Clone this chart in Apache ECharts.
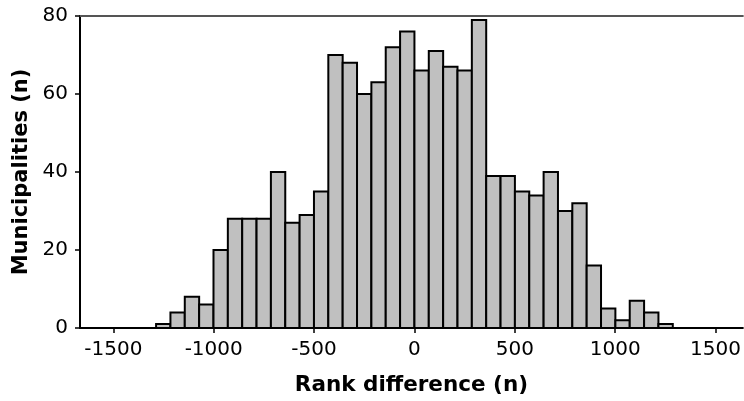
<!DOCTYPE html>
<html>
<head>
<meta charset="utf-8">
<script src="https://cdn.jsdelivr.net/npm/echarts@6/dist/echarts.min.js"></script>
<style>
html,body{margin:0;padding:0;background:#fff;}
#chart{width:744px;height:401px;}
</style>
</head>
<body>
<div id="chart"></div>
<script>
// Histogram data: 36 bins of equal width, symmetric around 0
const binStart = -1287;
const binWidth = 71.5;
const counts = [1, 4, 8, 6, 20, 28, 28, 28, 40, 27, 29, 35, 70, 68, 60, 63, 72, 76,
                66, 71, 67, 66, 79, 39, 39, 35, 34, 40, 30, 32, 16, 5, 2, 7, 4, 1];
const xTicks = [-1500, -1000, -500, 0, 500, 1000, 1500];
const yTicks = [0, 20, 40, 60, 80];
const xTitle = 'Rank difference (n)';
const yTitle = 'Municipalities (n)';

const data = counts.map((c, i) => [binStart + i * binWidth, binStart + (i + 1) * binWidth, c]);

const chart = echarts.init(document.getElementById('chart'), null, {renderer: 'canvas'});
const font = 'DejaVu Sans';
chart.setOption({
  animation: false,
  backgroundColor: '#fff',
  grid: {left: 80, right: 0, top: 16, bottom: 72, containLabel: false},
  xAxis: [{
    type: 'value',
    min: -1666, max: 1636,
    position: 'bottom',
    axisLine: {show: true, onZero: false, lineStyle: {color: '#000', width: 2}},
    axisTick: {show: true, inside: false, length: 5, customValues: xTicks, lineStyle: {color: '#000', width: 1.5}},
    axisLabel: {show: true, customValues: xTicks, margin: 12, color: '#000', fontSize: 20, fontFamily: font,
      formatter: v => String(v)},
    splitLine: {show: false},
    name: xTitle,
    nameLocation: 'middle',
    nameGap: 46,
    nameTextStyle: {color: '#000', fontSize: 21.5, fontWeight: 'bold', fontFamily: font}
  }, {
    type: 'value',
    min: -1666, max: 1636,
    position: 'top',
    axisLine: {show: true, onZero: false, lineStyle: {color: '#555', width: 2}},
    axisTick: {show: false},
    axisLabel: {show: false},
    splitLine: {show: false}
  }],
  yAxis: {
    type: 'value',
    min: 0, max: 80, interval: 20,
    position: 'left',
    axisLine: {show: true, onZero: false, lineStyle: {color: '#000', width: 2}},
    axisTick: {show: true, inside: false, length: 5, lineStyle: {color: '#000', width: 1.5}},
    axisLabel: {show: true, margin: 12, color: '#000', fontSize: 20, fontFamily: font},
    splitLine: {show: false},
    name: yTitle,
    nameLocation: 'middle',
    nameGap: 47,
    nameTextStyle: {color: '#000', fontSize: 21, fontWeight: 'bold', fontFamily: font}
  },
  series: [{
    type: 'custom',
    xAxisIndex: 0,
    yAxisIndex: 0,
    encode: {x: [0, 1], y: 2},
    data: data,
    renderItem: function (params, api) {
      const p0 = api.coord([api.value(0), api.value(2)]);
      const p1 = api.coord([api.value(1), 0]);
      return {
        type: 'rect',
        shape: {x: p0[0], y: p0[1], width: p1[0] - p0[0], height: p1[1] - p0[1]},
        style: {fill: '#c0c0c0', stroke: '#000', lineWidth: 2}
      };
    }
  }]
});
</script>
</body>
</html>
